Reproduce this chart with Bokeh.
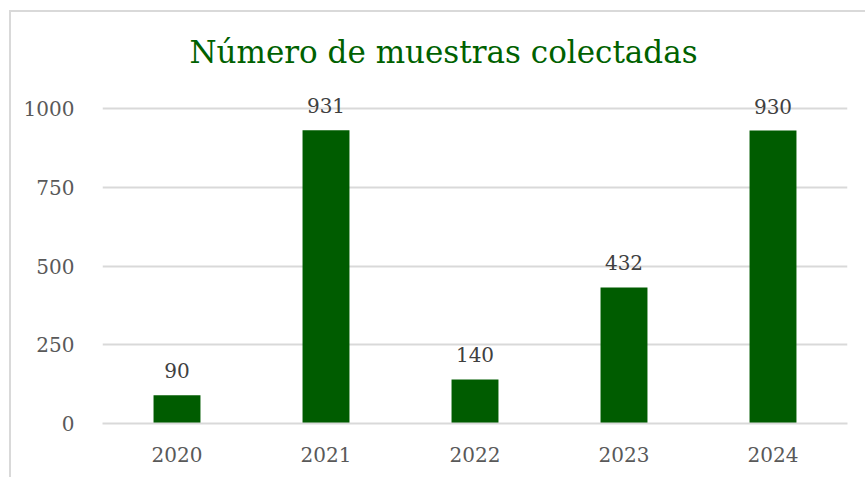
from bokeh.plotting import figure
from bokeh.models import ColumnDataSource, LabelSet, Label, Range1d, FixedTicker
from bokeh.core.properties import value
from bokeh.embed import file_html
from bokeh.resources import INLINE

years = ["2020", "2021", "2022", "2023", "2024"]
counts = [90, 931, 140, 432, 930]
y_ticks = [0, 250, 500, 750, 1000]
title_text = "Número de muestras colectadas"

FONT = "DejaVu Serif"
W, H = 856, 467

src = ColumnDataSource(dict(x=years, y=counts, lab=[str(c) for c in counts]))

p = figure(x_range=years, y_range=Range1d(0, 1305), width=W, height=H,
           output_backend="svg", toolbar_location=None,
           min_border_left=91, min_border_right=20, min_border_top=0, min_border_bottom=56)
p.title = None
p.outline_line_color = None
p.background_fill_color = "white"
p.border_fill_color = "white"

p.vbar(x="x", top="y", width=0.315, source=src, fill_color="#005c00", line_color=None)

p.xgrid.grid_line_color = None
p.ygrid.grid_line_color = "#d9d9d9"
p.ygrid.grid_line_width = 2
p.yaxis.ticker = FixedTicker(ticks=y_ticks)
p.yaxis.axis_line_color = None
p.yaxis.major_tick_line_color = None
p.yaxis.minor_tick_line_color = None
p.yaxis.major_label_text_font = FONT
p.yaxis.major_label_text_font_size = "20px"
p.yaxis.major_label_text_color = "#595959"
p.yaxis.major_label_standoff = 22

p.xaxis.axis_line_color = "#d9d9d9"
p.xaxis.axis_line_width = 2
p.xaxis.major_tick_line_color = None
p.xaxis.minor_tick_line_color = None
p.xaxis.major_label_text_font = FONT
p.xaxis.major_label_text_font_size = "20px"
p.xaxis.major_label_text_color = "#595959"
p.xaxis.major_label_standoff = 17

labels = LabelSet(x="x", y="y", text="lab", source=src, y_offset=17,
                  text_align="center", text_baseline="alphabetic",
                  text_font=value(FONT), text_font_size=value("20px"),
                  text_color="#404040")
p.add_layout(labels)

t = Label(x=341, y=372, x_units="screen", y_units="screen", text=title_text,
          text_align="center", text_baseline="alphabetic", text_font=FONT,
          text_font_size="31px", text_color="#006100")
p.add_layout(t)

p.margin = (10, 0, 0, 9)
p.styles = {"border-top": "2px solid #d9d9d9", "border-left": "2px solid #d9d9d9"}

open("out.html", "w").write(file_html(p, INLINE))
